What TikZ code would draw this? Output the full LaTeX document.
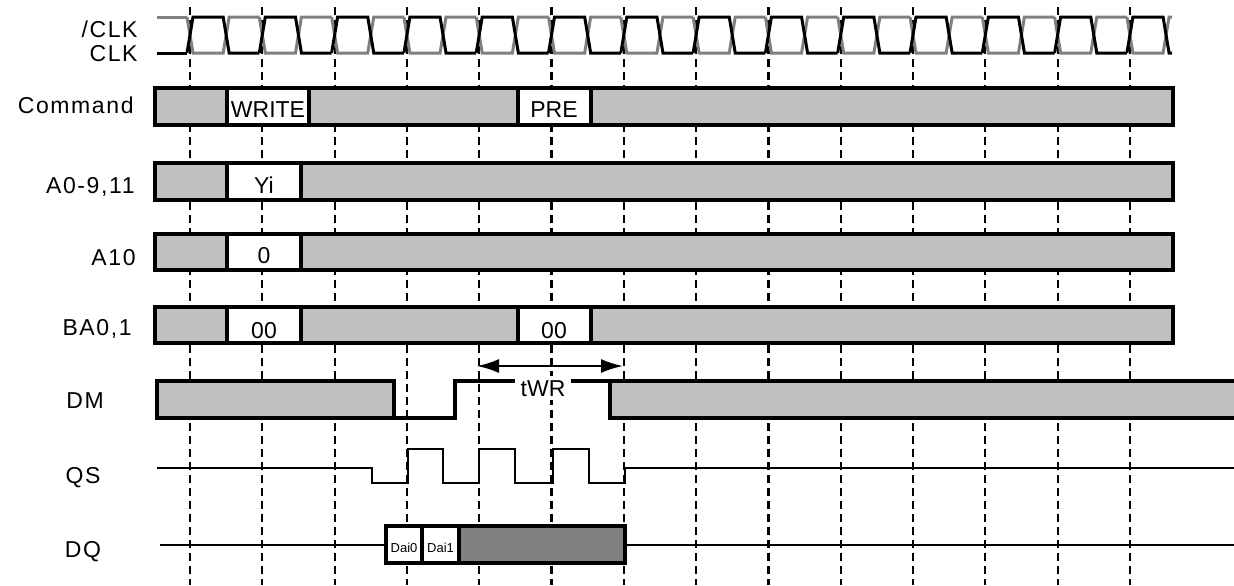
\documentclass[tikz,border=0pt]{standalone}
\usepackage{fontspec}
\setmainfont{Liberation Sans}
\newfontfamily\sigfont[LetterSpace=7]{Liberation Sans}
\usepackage{tikz}
\usetikzlibrary{arrows.meta}
\definecolor{busgray}{RGB}{192,192,192}
\definecolor{clkgray}{RGB}{128,128,128}
\definecolor{datagray}{RGB}{128,128,128}

\tikzset{
  bus/.style={draw=black, line width=1.8pt, fill=busgray},
  busval/.style={draw=black, line width=1.8pt, fill=white},
  busdata/.style={draw=black, line width=1.8pt, fill=datagray},
  wave/.style={draw=black, line width=0.9pt},
  clkline/.style={line width=1.5pt},
  tick/.style={dash pattern=on 4pt off 2.5pt, line width=1.1pt},
  lbl/.style={font=\fontsize{11.5}{13}\sigfont, anchor=base east, inner sep=0pt},
  signame/.style={font=\fontsize{11.5}{13}\sigfont, anchor=base, inner sep=0pt},
  val/.style={font=\fontsize{11.5}{13}\selectfont, anchor=base, inner sep=0pt},
  smallval/.style={font=\fontsize{6.5}{8}\selectfont, anchor=base, inner sep=0pt}
}

\begin{document}
\begin{tikzpicture}[x=0.5pt, y=-0.5pt]
\useasboundingbox (0,0) rectangle (1234,585);

% clock edge markers
\foreach \k in {0,...,13}
  \draw[tick] ({190+72.3*\k},7) -- ({190+72.3*\k},585);

% clock pair
\begin{scope}
\clip (150,0) rectangle (1172,70);
\draw[clkline, clkgray] (157,17) -- (187,17);
\foreach \k in {0,...,13}
  \draw[clkline, clkgray] ({187+72.3*\k},17) -- ({193+72.3*\k},53) -- ({223.15+72.3*\k},53)
    -- ({229.15+72.3*\k},17) -- ({259.3+72.3*\k},17);
\draw[clkline, black] (157,53) -- (187,53);
\foreach \k in {0,...,13}
  \draw[clkline, black] ({187+72.3*\k},53) -- ({193+72.3*\k},17) -- ({223.15+72.3*\k},17)
    -- ({229.15+72.3*\k},53) -- ({259.3+72.3*\k},53);
\end{scope}

% signal names
\node[lbl] (nclk) at (138,37) {/CLK};
\node[lbl] (clk) at (138,61) {CLK};
\node[lbl] (cmd) at (134,113) {Command};
\node[lbl] (addr) at (135,193) {A0-9,11};
\node[lbl] (a10) at (136,265) {A10};
\node[lbl] (ba) at (132,335) {BA0,1};
\node[signame] (dm) at (85,408) {DM};
\node[signame] (qs) at (83,483) {QS};
\node[signame] (dq) at (83,557) {DQ};

% Command
\draw[bus] (155,88) rectangle (227,125);
\draw[busval] (227,88) rectangle (309,125);
\draw[bus] (309,88) rectangle (518,125);
\draw[busval] (518,88) rectangle (591,125);
\draw[bus] (591,88) rectangle (1173,125);
\node[val] (write) at (268,117) {WRITE};
\node[val] (pre) at (554,117) {PRE};

% A0-9,11
\draw[bus] (155,163) rectangle (227,200);
\draw[busval] (227,163) rectangle (301,200);
\draw[bus] (301,163) rectangle (1173,200);
\node[val] (yi) at (264,193) {Yi};

% A10
\draw[bus] (155,234) rectangle (227,270);
\draw[busval] (227,234) rectangle (301,270);
\draw[bus] (301,234) rectangle (1173,270);
\node[val] (azero) at (264,263) {0};

% BA0,1
\draw[bus] (155,307) rectangle (227,343);
\draw[busval] (227,307) rectangle (301,343);
\draw[bus] (301,307) rectangle (518,343);
\draw[busval] (518,307) rectangle (591,343);
\draw[bus] (591,307) rectangle (1173,343);
\node[val] (bawr) at (264,338) {00};
\node[val] (bapre) at (554,338) {00};

% DM
\draw[bus] (157,381) rectangle (394,418);
\draw[wave, line width=1.6pt] (394,418) -- (455,418) -- (455,381) -- (610,381);
\filldraw[bus] (1240,381) -- (610,381) -- (610,418) -- (1240,418);

% tWR
\coordinate (twrl) at (477,366);
\coordinate (twrr) at (623,366);
\draw[line width=1.1pt, {Latex[length=11pt,width=7pt]}-{Latex[length=11pt,width=7pt]}] (twrl) -- (twrr);
\node[val, fill=white, inner xsep=3pt, inner ysep=2pt] (twr) at (543,396) {tWR};

% QS
\draw[wave] (157,468) -- (372,468) -- (372,483) -- (408,483) -- (408,449) -- (443,449)
  -- (443,483) -- (479,483) -- (479,449) -- (515,449) -- (515,483) -- (553,483)
  -- (553,449) -- (589,449) -- (589,483) -- (625,483) -- (625,468) -- (1234,468);

% DQ
\draw[wave] (160,545) -- (386,545);
\draw[wave] (625,545) -- (1234,545);
\draw[busval] (386,526) rectangle (422,563);
\draw[busval] (422,526) rectangle (459,563);
\draw[busdata] (459,526) rectangle (625,563);
\node[smallval] (dai0) at (404,552) {Dai0};
\node[smallval] (dai1) at (440.5,552) {Dai1};
\end{tikzpicture}
\end{document}
